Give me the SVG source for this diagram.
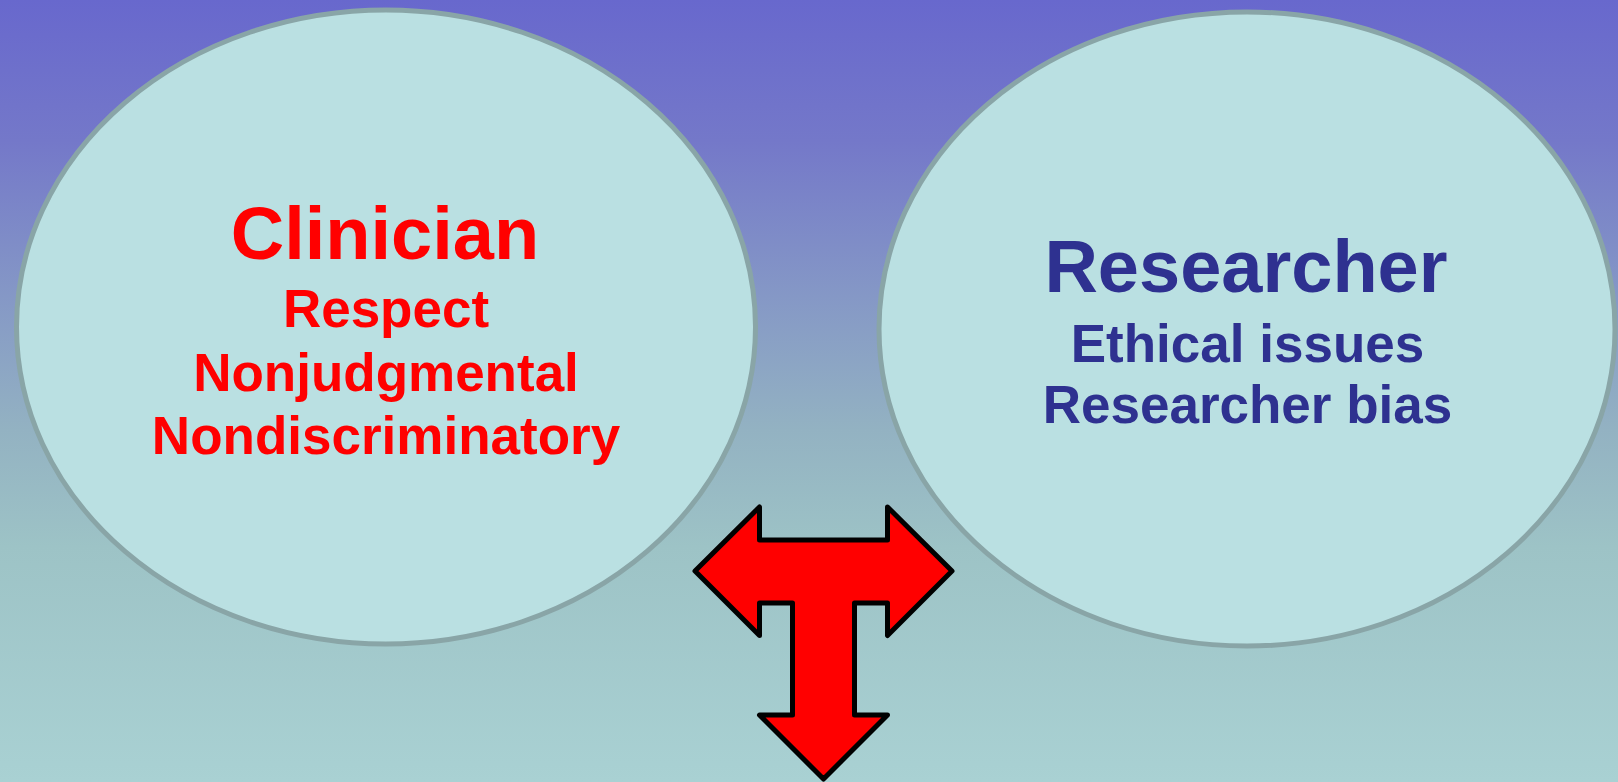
<svg xmlns="http://www.w3.org/2000/svg" width="1618" height="782" viewBox="0 0 1618 782">
<defs>
<linearGradient id="bg" x1="0" y1="0" x2="0" y2="1">
<stop offset="0" stop-color="#6868CD"/>
<stop offset="0.18" stop-color="#7478C9"/>
<stop offset="0.38" stop-color="#8598C6"/>
<stop offset="0.55" stop-color="#93B2C2"/>
<stop offset="0.7" stop-color="#9DC3C6"/>
<stop offset="1" stop-color="#A9D1D3"/>
</linearGradient>
<style>
.node ellipse{fill:#BAE0E2;stroke:#89A5A7;stroke-width:5}
.t{font-family:"Liberation Sans",Arial,sans-serif;font-weight:bold;text-anchor:middle}
.red{fill:#FF0000}
.blue{fill:#2E3190}
</style>
</defs>
<rect x="0" y="0" width="1618" height="782" fill="url(#bg)"/>
<g id="clinician" class="node">
<ellipse cx="386" cy="327" rx="369.5" ry="317"/>
<text class="t red" x="385" y="259" font-size="74">Clinician</text>
<text class="t red" x="386" y="327" font-size="53">Respect</text>
<text class="t red" x="386" y="391" font-size="53">Nonjudgmental</text>
<text class="t red" x="386" y="454" font-size="53">Nondiscriminatory</text>
</g>
<g id="researcher" class="node">
<ellipse cx="1247" cy="329" rx="368" ry="317"/>
<text class="t blue" x="1246" y="291.5" font-size="74">Researcher</text>
<text class="t blue" x="1247.5" y="361.5" font-size="53">Ethical issues</text>
<text class="t blue" x="1247.5" y="423" font-size="53">Researcher bias</text>
</g>
<g id="connectors">
<path d="M695,571 L759.5,507 L759.5,540 L887.5,540 L887.5,507 L952,571 L887.5,635.5 L887.5,603 L854.5,603 L854.5,715 L887.5,715 L823.5,779 L759.5,715 L792.5,715 L792.5,603 L759.5,603 L759.5,635.5 Z" fill="#FF0000" stroke="#000000" stroke-width="5" stroke-linejoin="round"/>
</g>
</svg>
